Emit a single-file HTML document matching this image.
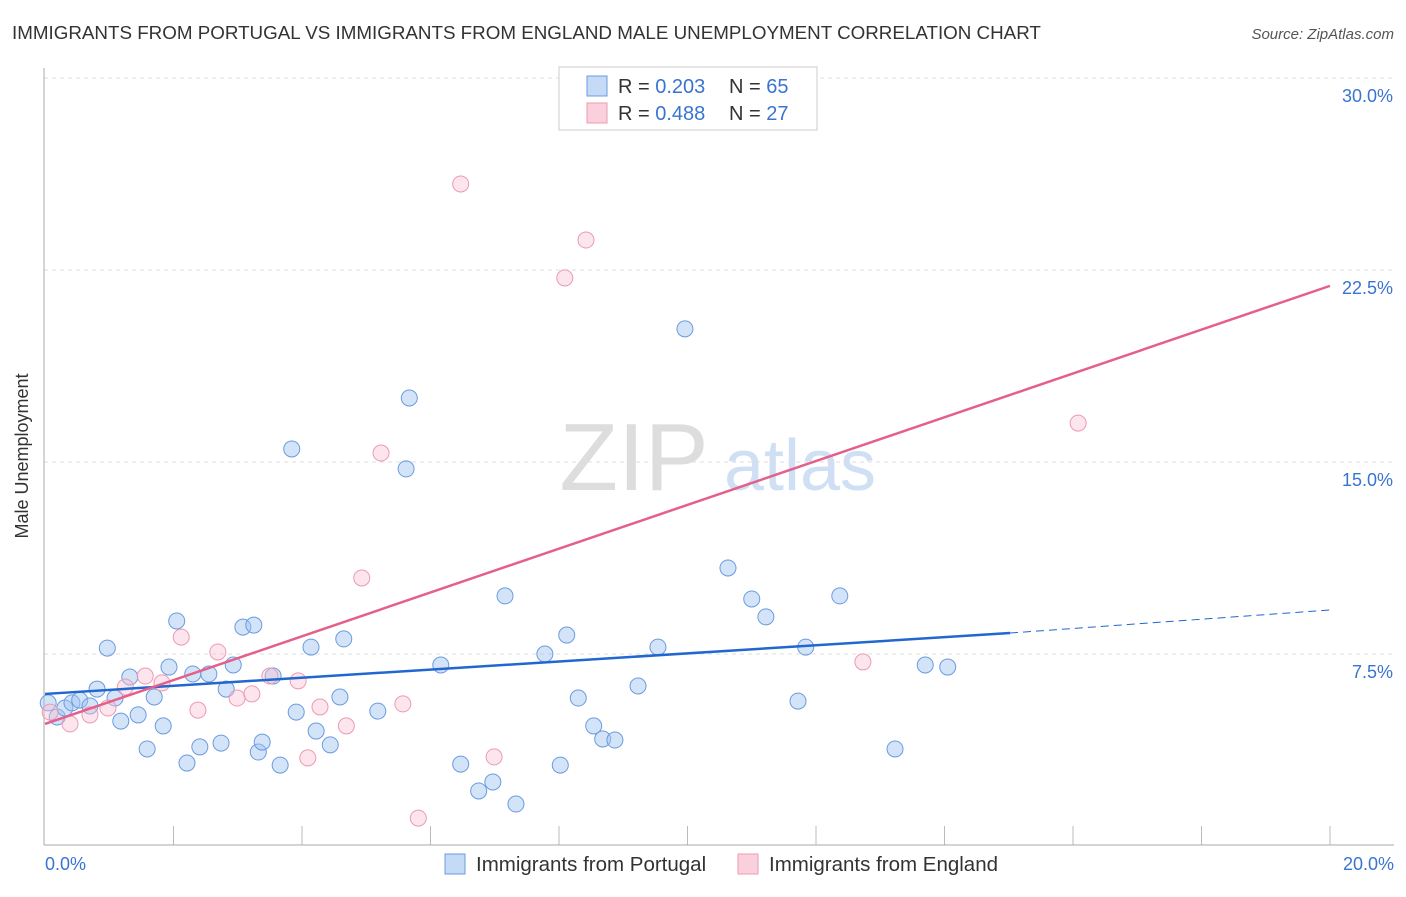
<!DOCTYPE html>
<html><head><meta charset="utf-8"><style>
body{margin:0;background:#fff;font-family:"Liberation Sans",sans-serif}
svg text{font-family:"Liberation Sans",sans-serif}
</style></head><body>
<svg width="1406" height="892">
<text x="12" y="39" font-size="18.8" fill="#333">IMMIGRANTS FROM PORTUGAL VS IMMIGRANTS FROM ENGLAND MALE UNEMPLOYMENT CORRELATION CHART</text>
<text x="1394" y="39" font-size="15" fill="#555" font-style="italic" text-anchor="end">Source: ZipAtlas.com</text>
<text x="634" y="490" font-size="96" fill="#ddd" font-family="Liberation Serif" text-anchor="middle">ZIP</text>
<text x="800" y="490" font-size="72" fill="#cfe0f5" text-anchor="middle">atlas</text>
<g id="grid"></g>
<line x1="44" y1="68" x2="44" y2="845" stroke="#aaa"/>
<line x1="44" y1="845" x2="1394" y2="845" stroke="#aaa"/>
<text x="28" y="456" font-size="18" fill="#333" text-anchor="middle" transform="rotate(-90 28 456)">Male Unemployment</text>
<text x="45" y="870" font-size="18" fill="#3a74d1">0.0%</text>
<text x="1394" y="870" font-size="18" fill="#3a74d1" text-anchor="end">20.0%</text>
<g id="pts"></g>
<g id="lines"></g>
<g>
<rect x="559" y="67" width="258" height="63" fill="#fff" stroke="#ccc"/>
<rect x="587" y="76" width="20" height="20" fill="#c5daf5" stroke="#6a9be0"/>
<rect x="587" y="103" width="20" height="20" fill="#fad0dc" stroke="#ec9ab3"/>
<text x="618" y="93" font-size="20" fill="#333">R = <tspan fill="#3a74d1">0.203</tspan></text>
<text x="729" y="93" font-size="20" fill="#333">N = <tspan fill="#3a74d1">65</tspan></text>
<text x="618" y="120" font-size="20" fill="#333">R = <tspan fill="#3a74d1">0.488</tspan></text>
<text x="729" y="120" font-size="20" fill="#333">N = <tspan fill="#3a74d1">27</tspan></text>
</g>
<g><rect x="445" y="854" width="20" height="20" fill="#c5daf5" stroke="#6a9be0"/><text x="476" y="871" font-size="20.5" fill="#333">Immigrants from Portugal</text></g>
<g><rect x="738" y="854" width="20" height="20" fill="#fad0dc" stroke="#ec9ab3"/><text x="769" y="871" font-size="20.5" fill="#333">Immigrants from England</text></g>
</svg>
<script>
const yTicks=[7.5,15,22.5,30];
const yTickLabels=["7.5%","15.0%","22.5%","30.0%"];
const xTicks=[0,2,4,6,8,10,12,14,16,18,20];
const blueX=[0.05,0.19,0.31,0.42,0.54,0.70,0.81,0.97,1.09,1.18,1.32,1.45,1.59,1.70,1.84,1.93,2.05,2.21,2.30,2.41,2.55,2.74,2.82,2.93,3.08,3.25,3.32,3.38,3.55,3.66,3.84,3.91,4.14,4.22,4.44,4.59,4.65,5.18,5.62,5.67,6.16,6.47,6.75,6.97,7.16,7.33,7.78,8.02,8.12,8.30,8.54,8.68,8.87,9.23,9.54,9.96,10.63,11.00,11.22,11.72,11.84,12.37,13.23,13.70,14.05];
const blueY=[5.59,5.04,5.39,5.59,5.70,5.47,6.13,7.73,5.78,4.88,6.60,5.12,3.79,5.82,4.69,6.99,8.79,3.24,6.72,3.87,6.72,4.02,6.13,7.07,8.55,8.63,3.67,4.06,6.64,3.16,15.51,5.23,7.77,4.49,3.95,5.82,8.09,5.27,14.73,17.50,7.07,3.20,2.15,2.50,9.77,1.64,7.50,3.16,8.24,5.78,4.69,4.18,4.14,6.25,7.77,20.20,10.86,9.65,8.95,5.66,7.77,9.77,3.79,7.07,6.99];
const pinkX=[0.08,0.39,0.70,0.98,1.25,1.56,1.82,2.12,2.38,2.69,2.99,3.22,3.50,3.94,4.09,4.28,4.69,4.93,5.23,5.57,5.81,6.47,6.99,8.09,8.42,12.73,16.08];
const pinkY=[5.23,4.77,5.12,5.39,6.21,6.64,6.37,8.16,5.31,7.58,5.78,5.94,6.64,6.45,3.44,5.43,4.69,10.47,15.35,5.55,1.09,25.86,3.48,22.19,23.67,7.19,16.52];
const blueTrend=[5.94,8.32,9.22];
const blueTrendX=[0,15.02,20];
const pinkTrend=[4.77,21.88];
const pinkTrendX=[0,20];
const sx=v=>45+v*64.25, sy=v=>846-v*25.6;
const NS="http://www.w3.org/2000/svg";
function mk(t,a,p){const e=document.createElementNS(NS,t);for(const k in a)e.setAttribute(k,a[k]);p.appendChild(e);return e;}
const grid=document.getElementById('grid');
yTicks.forEach((t,i)=>{
 const l=mk('line',{x1:44,x2:1394,y1:sy(t),y2:sy(t),stroke:'#ddd','stroke-dasharray':'4,4'},grid);
 
 
 const tx=mk('text',{x:1393,y:sy(t)+24,'font-size':18,fill:'#3a74d1','text-anchor':'end'},grid);tx.textContent=yTickLabels[i];
 
 
});
mk('line',{x1:44,x2:1394,y1:78,y2:78,stroke:'#ddd','stroke-dasharray':'4,4'},grid);
xTicks.forEach(t=>{if(t===0)return;const l=mk('line',{x1:sx(t),x2:sx(t),y1:826,y2:845,stroke:'#bbb'},grid);
 
 });
const pts=document.getElementById('pts');
blueX.forEach((x,i)=>{const c=mk('circle',{cx:sx(x),cy:sy(blueY[i]),r:8,fill:'rgba(160,195,240,0.45)',stroke:'#6a9be0','stroke-width':1},pts);
 
 });
pinkX.forEach((x,i)=>{const c=mk('circle',{cx:sx(x),cy:sy(pinkY[i]),r:8,fill:'rgba(248,190,210,0.4)',stroke:'#ec9ab3','stroke-width':1},pts);
 
 });
const lines=document.getElementById('lines');
const b1=mk('line',{x1:sx(blueTrendX[0]),y1:sy(blueTrend[0]),x2:sx(blueTrendX[1]),y2:sy(blueTrend[1]),stroke:'#2266d0','stroke-width':2.5},lines);


const b2=mk('line',{x1:sx(blueTrendX[1]),y1:sy(blueTrend[1]),x2:sx(blueTrendX[2]),y2:sy(blueTrend[2]),stroke:'#2266d0','stroke-width':1,'stroke-dasharray':'8,5'},lines);


const p1=mk('line',{x1:sx(pinkTrendX[0]),y1:sy(pinkTrend[0]),x2:sx(pinkTrendX[1]),y2:sy(pinkTrend[1]),stroke:'#e4608b','stroke-width':2.5},lines);


</script>
</body></html>
